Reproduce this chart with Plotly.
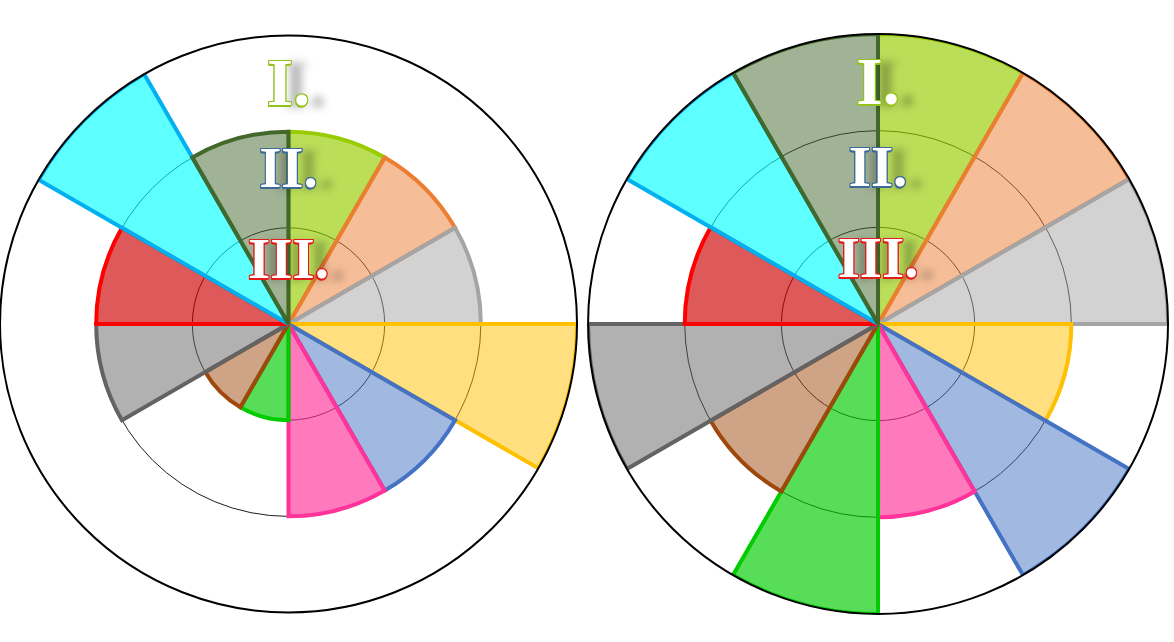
import plotly.graph_objects as go

# Sector positions (degrees clockwise from north) and width
sector_theta = [15, 45, 75, 105, 135, 165, 195, 225, 255, 285, 315, 345]
sector_width = [30] * 12

# Radial values
left_r = [2, 2, 2, 3, 2, 2, 1, 1, 2, 2, 3, 2]
right_r = [3, 3, 3, 2, 3, 2, 3, 2, 3, 2, 3, 3]

line_colors = ["#99cc00", "#ed7d31", "#a5a5a5", "#ffc000", "#4472c4", "#ff3399",
               "#00cc00", "#9e480e", "#636363", "#ff0000", "#00b0f0", "#43682b"]
fill_colors = ["rgba(150,205,0,0.65)", "rgba(237,125,49,0.5)", "rgba(165,165,165,0.5)",
               "rgba(255,192,0,0.5)", "rgba(68,114,196,0.5)", "rgba(255,51,153,0.65)",
               "rgba(0,204,0,0.66)", "rgba(158,72,14,0.5)", "rgba(99,99,99,0.5)",
               "rgba(205,0,0,0.65)", "rgba(0,255,255,0.63)", "rgba(67,104,43,0.5)"]

# Roman numeral labels on the vertical axis
label_text = ["I.", "II.", "III."]
label_r = [2.45, 1.57, 0.63]
label_colors = ["#92c31a", "#3b6a98", "#e31b1b"]
label_sizes = [68, 57, 57]


def shadow(c):
    parts = [f"{dx}px {dy}px 0 {c}" for dx, dy in
             [(1, 0), (-1, 0), (0, 1), (0, -1), (1, 1), (-1, -1), (1, -1), (-1, 1), (-1, 2), (0, 2)]]
    parts.append("16px 2px 8px rgba(0,0,0,0.30)")
    return ", ".join(parts)


fig = go.Figure()
for sub, rvals in (("polar", left_r), ("polar2", right_r)):
    fig.add_trace(go.Barpolar(
        r=rvals, theta=sector_theta, width=sector_width,
        marker=dict(color=fill_colors, line=dict(color=line_colors, width=4)),
        subplot=sub, showlegend=False, hoverinfo="skip"))
    for t, rr, c, s in zip(label_text, label_r, label_colors, label_sizes):
        fig.add_trace(go.Scatterpolar(
            r=[rr], theta=[0], mode="text", text=[t],
            textposition="middle center",
            textfont=dict(family="Liberation Serif", size=s, color="white",
                          weight="bold", shadow=shadow(c)),
            subplot=sub, showlegend=False, hoverinfo="skip"))

axis_common = dict(
    bgcolor="white",
    radialaxis=dict(range=[0, 3], tickvals=[1, 2], showticklabels=False, ticks="",
                    showline=False, gridcolor="#1e1e1e", gridwidth=1.4),
    angularaxis=dict(rotation=90, direction="clockwise", showgrid=False,
                     showticklabels=False, ticks="", linecolor="black", linewidth=2),
)

fig.update_layout(
    width=1174, height=642,
    margin=dict(l=0, r=0, t=0, b=0),
    paper_bgcolor="white",
    polar=dict(domain=dict(x=[0, 0.4915], y=[0, 0.9907]), **axis_common),
    polar2=dict(domain=dict(x=[0.5009, 0.9949], y=[0, 0.9907]), **axis_common),
    showlegend=False,
)

fig.write_html("out.html")
